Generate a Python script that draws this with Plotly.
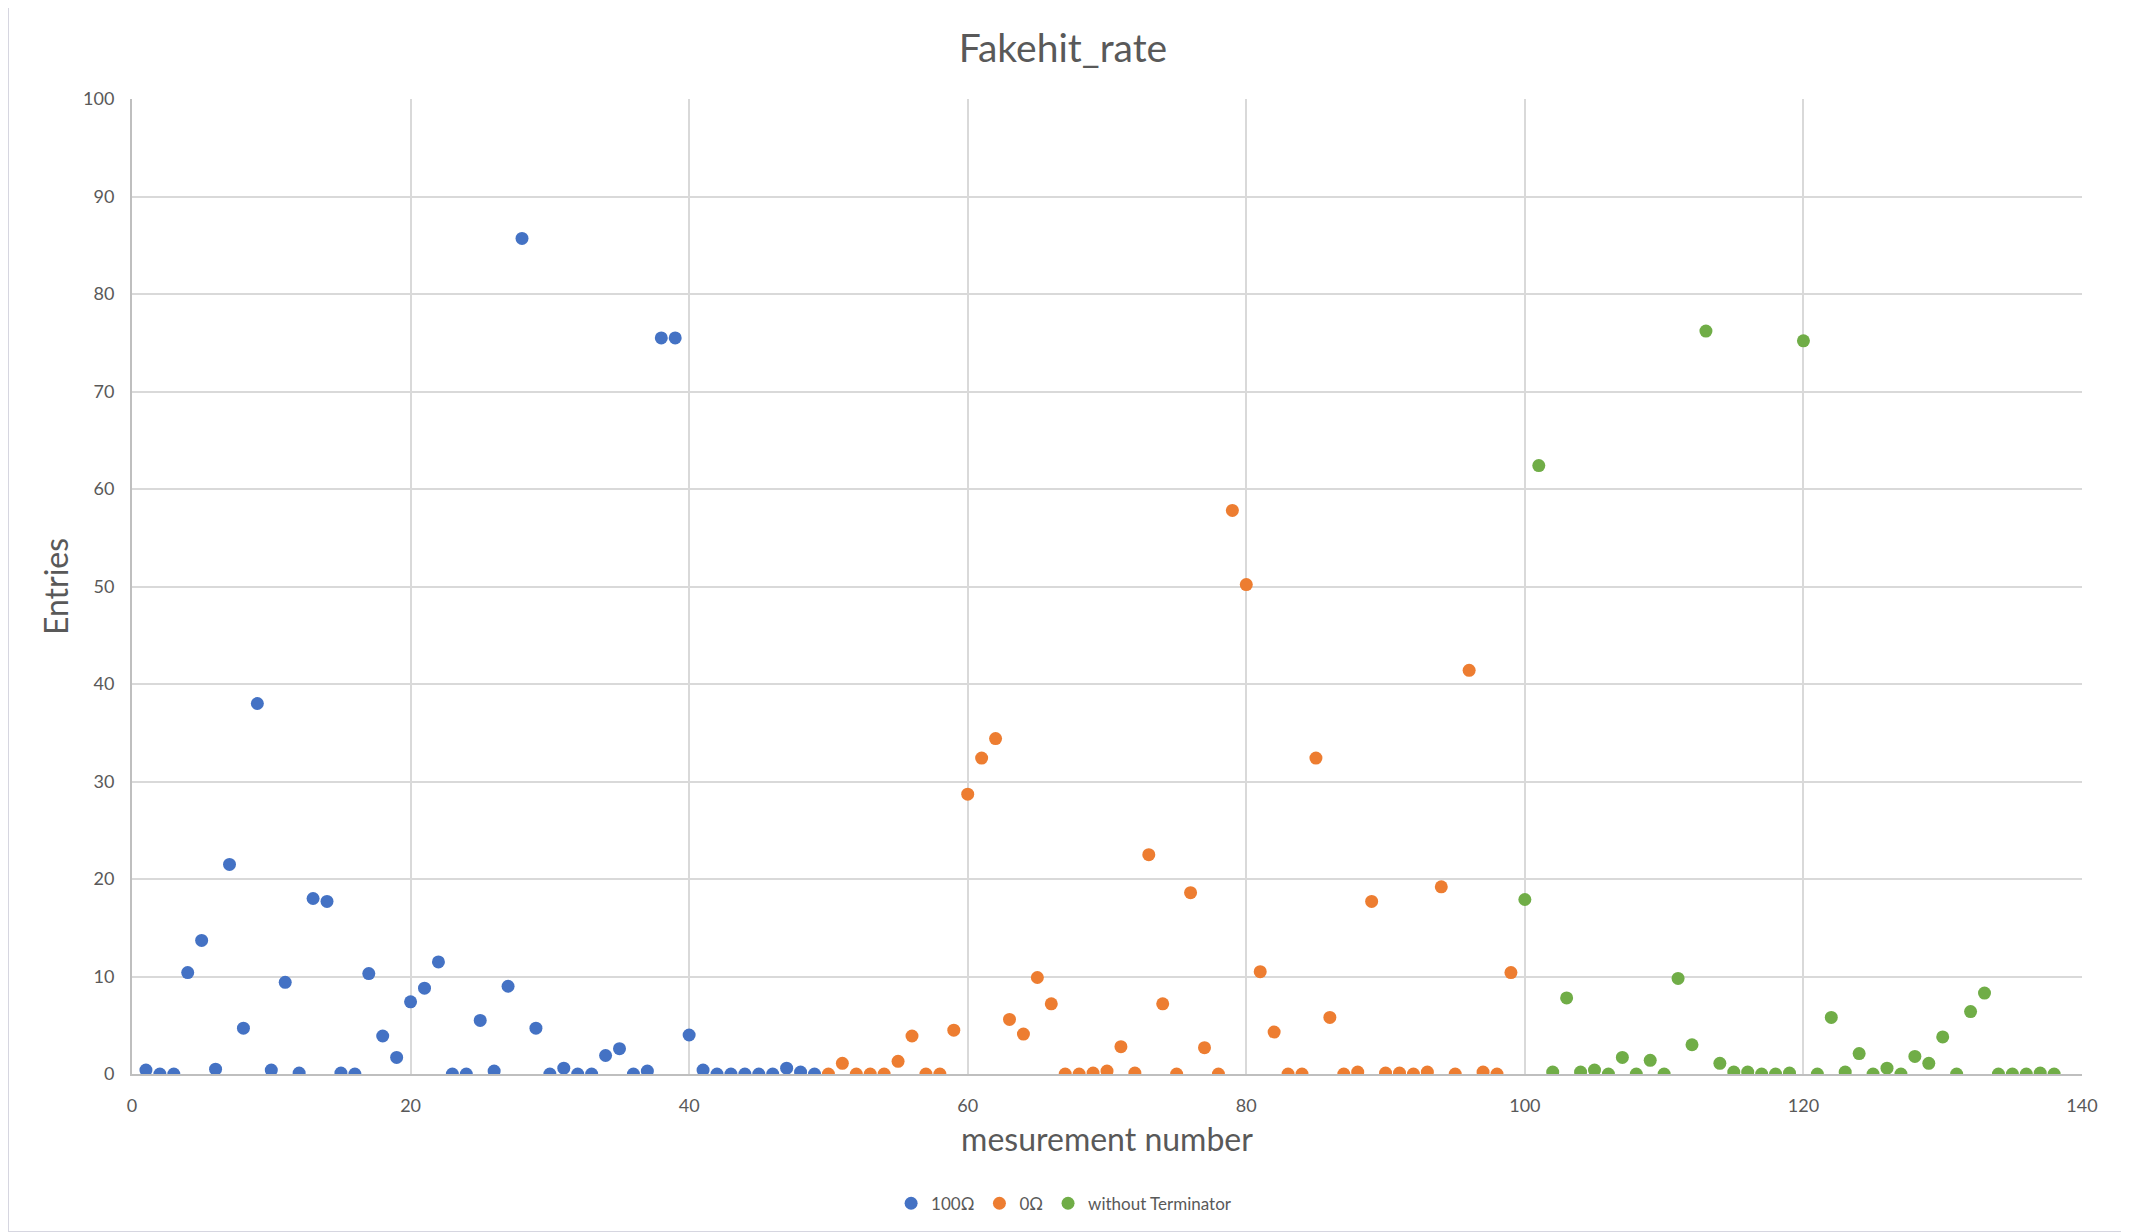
import plotly.graph_objects as go

# ---- data ----
blue_x = list(range(1, 50))
blue_y = [0.4, 0.0, 0.0, 10.4, 13.7, 0.5, 21.5, 4.7, 38.0, 0.4,
          9.4, 0.1, 18.0, 17.7, 0.1, 0.0, 10.3, 3.9, 1.7, 7.4,
          8.8, 11.5, 0.0, 0.0, 5.5, 0.3, 9.0, 85.7, 4.7, 0.0,
          0.6, 0.0, 0.0, 1.9, 2.6, 0.0, 0.3, 75.5, 75.5, 4.0,
          0.4, 0.0, 0.0, 0.0, 0.0, 0.0, 0.6, 0.2, 0.0]

orange_x = list(range(50, 100))
orange_y = [0.0, 1.1, 0.0, 0.0, 0.0, 1.3, 3.9, 0.0, 0.0, 4.5,
            28.7, 32.4, 34.4, 5.6, 4.1, 9.9, 7.2, 0.0, 0.0, 0.1,
            0.3, 2.8, 0.1, 22.5, 7.2, 0.0, 18.6, 2.7, 0.0, 57.8,
            50.2, 10.5, 4.3, 0.0, 0.0, 32.4, 5.8, 0.0, 0.2, 17.7,
            0.1, 0.1, 0.0, 0.2, 19.2, 0.0, 41.4, 0.2, 0.0, 10.4]

green_x = list(range(100, 139))
green_y = [17.9, 62.4, 0.2, 7.8, 0.2, 0.4, 0.0, 1.7, 0.0, 1.4,
           0.0, 9.8, 3.0, 76.2, 1.1, 0.2, 0.2, 0.0, 0.0, 0.1,
           75.2, 0.0, 5.8, 0.2, 2.1, 0.0, 0.6, 0.0, 1.8, 1.1,
           3.8, 0.0, 6.4, 8.3, 0.0, 0.0, 0.0, 0.1, 0.0]

series_names = ["100Ω", "0Ω", "without Terminator"]
series_colors = ["#4472C4", "#ED7D31", "#70AD47"]

x_ticks = [0, 20, 40, 60, 80, 100, 120, 140]
y_ticks = [0, 10, 20, 30, 40, 50, 60, 70, 80, 90, 100]

FONT = "Lato, Carlito, Calibri, sans-serif"
GRAY = "#595959"

fig = go.Figure()
for xs, ys, name, col in zip([blue_x, orange_x, green_x],
                             [blue_y, orange_y, green_y],
                             series_names, series_colors):
    fig.add_trace(go.Scatter(
        x=xs, y=ys, mode="markers", name=name,
        marker=dict(color=col, size=13, line=dict(width=0)),
    ))

fig.update_layout(
    width=2129, height=1232,
    margin=dict(l=124, r=55, t=91, b=166),
    paper_bgcolor="white", plot_bgcolor="white",
    font=dict(family=FONT, color=GRAY),
    title=dict(text="Fakehit_rate", x=0.4955, xref="container", xanchor="center",
               y=1 - 40 / 1232, yref="container", yanchor="middle",
               font=dict(size=39, color=GRAY, family=FONT)),
    showlegend=True,
    legend=dict(orientation="h", x=0.478, xanchor="center",
                y=-0.133, yanchor="middle", itemwidth=30,
                font=dict(size=17, color=GRAY, family=FONT),
                bgcolor="rgba(0,0,0,0)"),
    shapes=[dict(type="rect", xref="paper", yref="paper",
                 x0=-0.0636, x1=1.0226, y0=-0.162, y1=1.098,
                 line=dict(color="#d6d6e0", width=2), layer="below")],
)

fig.update_xaxes(
    range=[0, 140], tickvals=x_ticks, ticktext=[str(v) for v in x_ticks],
    showgrid=True, gridcolor="#d9d9d9", gridwidth=2,
    showline=True, linecolor="#bfbfbf", linewidth=2,
    zeroline=False, mirror=False,
    ticks="outside", ticklen=14, tickcolor="rgba(0,0,0,0)",
    tickfont=dict(size=18, color=GRAY, family=FONT),
    title=dict(text="mesurement number", standoff=14,
               font=dict(size=32, color=GRAY, family=FONT)),
)
fig.update_yaxes(
    range=[0, 100], tickvals=y_ticks, ticktext=[str(v) for v in y_ticks],
    showgrid=True, gridcolor="#d9d9d9", gridwidth=2,
    showline=True, linecolor="#bfbfbf", linewidth=2,
    zeroline=False,
    ticks="outside", ticklen=12, tickcolor="rgba(0,0,0,0)",
    tickfont=dict(size=18, color=GRAY, family=FONT),
    title=dict(text="Entries", standoff=5,
               font=dict(size=32, color=GRAY, family=FONT)),
)

fig.write_html("out.html")
